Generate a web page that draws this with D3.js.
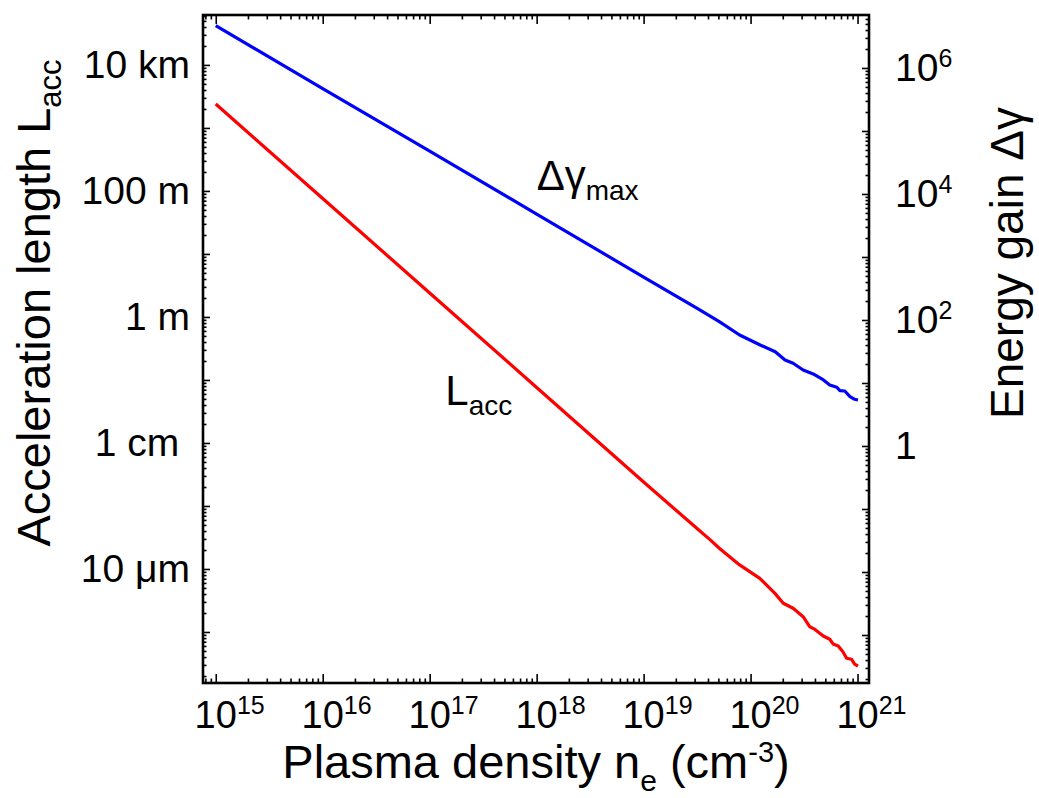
<!DOCTYPE html>
<html><head><meta charset="utf-8">
<script src="https://cdn.jsdelivr.net/npm/d3@7"></script>
<style>
body{margin:0;background:#fff}
text{font-family:"Liberation Sans",Arial,Helvetica,sans-serif;fill:#000}
</style>
</head><body>
<svg id="chart" width="1039" height="798"></svg>
<script>
// ---- data ----
// energy gain Δγ_max (blue) vs plasma density (cm^-3)
const gainDensity = [1e15,1e16,1e17,1e18,1e19,3.2e19,5.1e19,7.9e19,1.23e20,1.7e20,2.1e20,2.5e20,3.1e20,3.85e20,4.8e20,5.5e20,6.4e20,6.85e20,7.6e20,8.5e20,9.4e20,1.01e21];
const gainValues  = [4.7e6,4.7e5,4.8e4,4.8e3,480,151,94,57.8,40.1,31.4,23.2,20.6,16.1,13.9,11.2,9.3,8.55,7.55,7.46,6.07,5.51,5.37];
// acceleration length L_acc in metres (red) vs plasma density (cm^-3)
const lengthDensity = [1e15,1e16,1e17,1e18,1e19,3.2e19,4.2e19,5.1e19,7.9e19,1.22e20,1.69e20,2.02e20,2.5e20,3.1e20,3.58e20,4.0e20,4.78e20,5.5e20,5.9e20,6.6e20,7.3e20,7.9e20,8.8e20,9.4e20,1.01e21];
const lengthValues  = [2400,76,2.4,0.076,2.4e-3,4.3e-4,2.9e-4,2.13e-4,1.16e-4,7.1e-5,4.1e-5,2.86e-5,2.38e-5,1.75e-5,1.21e-5,1.10e-5,8.65e-6,7.66e-6,6.46e-6,6.0e-6,4.86e-6,3.83e-6,3.69e-6,3.1e-6,2.88e-6];

// ---- axes / ticks ----
const xDomain = [7.6e14, 1.28e21];
const xTickValues = [1e15,1e16,1e17,1e18,1e19,1e20,1e21];
const xTickExponents = ["15","16","17","18","19","20","21"];
const leftDomain = [6.2e4, 1.55e-6];
const leftTickValues = [1e4,1e2,1,1e-2,1e-4];
const leftTickLabels = ["10 km","100 m","1 m","1 cm\u00a0","10 \u03bcm"];
const rightDomain = [6.93e6, 1.73e-4];
const rightTickValues = [1e6,1e4,1e2,1];
const rightTickBases = ["10","10","10","1"];
const rightTickExponents = ["6","4","2",""];

const L = 203, R = 869, T = 15, B = 683;
const svg = d3.select("#chart");

const x = d3.scaleLog().domain(xDomain).range([L, R]);
const yL = d3.scaleLog().domain(leftDomain).range([T, B]);
const yR = d3.scaleLog().domain(rightDomain).range([T, B]);

function minorTicks(scale){
  const d = scale.domain();
  const mn = Math.min(d[0],d[1]), mx = Math.max(d[0],d[1]);
  const lo = Math.floor(Math.log10(mn)), hi = Math.ceil(Math.log10(mx));
  const out=[];
  for(let e=lo;e<=hi;e++) for(let m=2;m<=9;m++){
    const v=m*Math.pow(10,e);
    if(v>=mn && v<=mx) out.push(v);
  }
  return out;
}
function decades(scale){
  const d = scale.domain();
  const lo = Math.ceil(Math.log10(Math.min(d[0],d[1])));
  const hi = Math.floor(Math.log10(Math.max(d[0],d[1])));
  const out=[]; for(let e=lo;e<=hi;e++) out.push(Math.pow(10,e)); return out;
}
function styleAxis(g){ g.select(".domain").remove(); g.selectAll(".tick line").attr("stroke","#000").attr("stroke-width",1.6); g.selectAll(".tick text").remove(); }

// bottom & top (ticks point inward)
[[d3.axisBottom, B],[d3.axisTop, T]].forEach(([ax, pos])=>{
  svg.append("g").attr("transform",`translate(0,${pos})`)
    .call(ax(x).tickValues(decades(x)).tickSize(-9).tickFormat("")).call(styleAxis);
  svg.append("g").attr("transform",`translate(0,${pos})`)
    .call(ax(x).tickValues(minorTicks(x)).tickSize(-4.5).tickFormat("")).call(styleAxis);
});
// left
svg.append("g").attr("transform",`translate(${L},0)`)
  .call(d3.axisLeft(yL).tickValues(decades(yL)).tickSize(-7).tickFormat("")).call(styleAxis);
svg.append("g").attr("transform",`translate(${L},0)`)
  .call(d3.axisLeft(yL).tickValues(minorTicks(yL)).tickSize(-3.5).tickFormat("")).call(styleAxis);
// right
svg.append("g").attr("transform",`translate(${R},0)`)
  .call(d3.axisRight(yR).tickValues(decades(yR)).tickSize(-7).tickFormat("")).call(styleAxis);
svg.append("g").attr("transform",`translate(${R},0)`)
  .call(d3.axisRight(yR).tickValues(minorTicks(yR)).tickSize(-3.5).tickFormat("")).call(styleAxis);

// curves
const gainPts = gainDensity.map((n,i)=>[n,gainValues[i]]);
const lenPts = lengthDensity.map((n,i)=>[n,lengthValues[i]]);
svg.append("path").datum(gainPts)
  .attr("d", d3.line().x(d=>x(d[0])).y(d=>yR(d[1])))
  .attr("fill","none").attr("stroke","#0000ff").attr("stroke-width",3.2).attr("stroke-linejoin","round");
svg.append("path").datum(lenPts)
  .attr("d", d3.line().x(d=>x(d[0])).y(d=>yL(d[1])))
  .attr("fill","none").attr("stroke","#ff0000").attr("stroke-width",3.2).attr("stroke-linejoin","round");

// frame
svg.append("rect").attr("x",L).attr("y",T).attr("width",R-L).attr("height",B-T)
  .attr("fill","none").attr("stroke","#000").attr("stroke-width",2.6);

// tick labels
const TF = 38, SF = 25;
xTickValues.forEach((t,i)=>{
  const txt = svg.append("text").attr("y",B+45).attr("font-size",TF);
  txt.append("tspan").text("10");
  txt.append("tspan").attr("font-size",SF).attr("dy",-14).text(xTickExponents[i]);
  const w10 = txt.node().getSubStringLength(0,2);
  txt.attr("x", x(t) - w10/2);
});
leftTickValues.forEach((t,i)=>{
  svg.append("text").attr("x",190).attr("y",yL(t)+13).attr("font-size",39)
    .attr("text-anchor","end").text(leftTickLabels[i]);
});
rightTickValues.forEach((t,i)=>{
  const txt = svg.append("text").attr("x",895).attr("y",yR(t)+13).attr("font-size",39);
  txt.append("tspan").text(rightTickBases[i]);
  if(rightTickExponents[i]) txt.append("tspan").attr("font-size",SF).attr("dy",-14).text(rightTickExponents[i]);
});

// axis titles
const bt = svg.append("text").attr("x",536).attr("y",778).attr("font-size",47).attr("text-anchor","middle");
bt.append("tspan").text("Plasma density n");
bt.append("tspan").attr("font-size",30).attr("dy",13).text("e");
bt.append("tspan").attr("dy",-13).text(" (cm");
bt.append("tspan").attr("font-size",29).attr("dy",-16).text("-3");
bt.append("tspan").attr("dy",16).text(")");

const lt = svg.append("text").attr("transform","translate(50,303) rotate(-90)").attr("font-size",47).attr("text-anchor","middle");
lt.append("tspan").text("Acceleration length L");
lt.append("tspan").attr("font-size",31).attr("dy",11).text("acc");

const rt = svg.append("text").attr("transform","translate(1023,263) rotate(-90)").attr("font-size",46).attr("text-anchor","middle");
rt.append("tspan").text("Energy gain \u0394\u03b3");

// annotations (placed in data coordinates)
const a1 = svg.append("text").attr("x",x(1e18)).attr("y",yR(1.15e4)).attr("font-size",42);
a1.append("tspan").text("\u0394\u03b3");
a1.append("tspan").attr("font-size",28).attr("dy",10).text("max");
const a2 = svg.append("text").attr("x",x(1.4e17)).attr("y",yL(0.04)).attr("font-size",42);
a2.append("tspan").text("L");
a2.append("tspan").attr("font-size",28).attr("dy",10).text("acc");
</script>
</body></html>
